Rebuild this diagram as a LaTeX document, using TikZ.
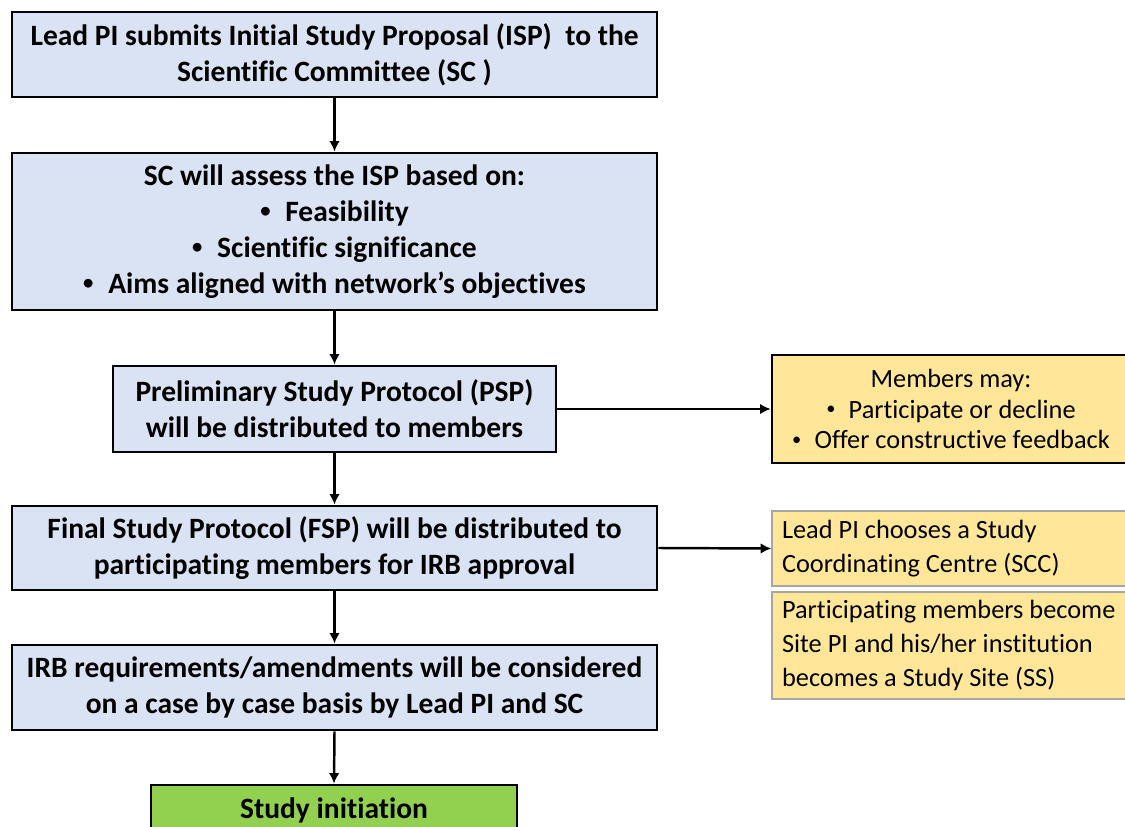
\documentclass[tikz,border=0pt]{standalone}
\usepackage{fontspec}
\usepackage{graphicx}
\setmainfont{Carlito}[Ligatures=NoCommon]
\usetikzlibrary{arrows.meta}
\definecolor{bluefill}{HTML}{DAE3F3}
\definecolor{yellowfill}{HTML}{FFE699}
\definecolor{greenfill}{HTML}{92D050}
\definecolor{graybord}{HTML}{A6A6A6}
\newcommand{\smbul}{\raisebox{0.12em}{\scalebox{0.7}{\textbullet}}\hspace{0.5em}}
\tikzset{
  mainbox/.style={draw=black, line width=1.6pt, fill=bluefill, align=center, inner sep=2pt,
    font=\fontsize{16.8}{20.4}\selectfont\bfseries},
  sidebox/.style={draw=black, line width=1.6pt, fill=yellowfill, align=center, inner sep=2pt,
    font=\fontsize{15}{17.6}\selectfont},
  notebox/.style={draw=graybord, line width=0.9pt, fill=yellowfill, align=flush left,
    inner xsep=0.2cm, inner ysep=2pt,
    text width=6.76cm, font=\fontsize{15}{19.3}\selectfont},
  greenbox/.style={draw=black, line width=1.6pt, fill=greenfill, align=center,
    font=\fontsize{16.8}{20.4}\selectfont\bfseries},
  flow/.style={line width=1.4pt, -{Latex[length=6pt,width=6pt]}}
}
\begin{document}
\begin{tikzpicture}[x=0.02cm,y=-0.02cm]
\useasboundingbox (0,0) rectangle (1125,827);
\clip (0,0) rectangle (1125,827);
\node[mainbox, minimum width=12.9cm, minimum height=1.7cm] (b1) at (334.5,54.5)
  {Lead PI submits Initial Study Proposal (ISP)~ to the\\Scientific Committee (SC )};
\node[mainbox, minimum width=12.9cm, minimum height=3.14cm] (b2) at (334.5,231.5)
  {SC will assess the ISP based on:\\\smbul Feasibility\\\smbul Scientific significance\\\smbul Aims aligned with network’s objectives};
\node[mainbox, minimum width=8.86cm, minimum height=1.72cm] (b3) at (334.5,409)
  {Preliminary Study Protocol (PSP)\\will be distributed to members};
\node[mainbox, minimum width=12.9cm, minimum height=1.68cm] (b4) at (334.5,548)
  {Final Study Protocol (FSP) will be distributed to\\participating members for IRB approval};
\node[mainbox, minimum width=12.9cm, minimum height=1.7cm] (b5) at (334.5,687.5)
  {IRB requirements/amendments will be considered\\on a case by case basis by Lead PI and SC};
\node[greenbox, minimum width=7.32cm, minimum height=1.0cm] (b6) at (334,810)
  {Study initiation};
\node[sidebox, minimum width=7.16cm, minimum height=2.16cm] (yA) at (951,409)
  {Members may:\\\smbul Participate or decline\\\smbul Offer constructive feedback};
\node[notebox, minimum height=1.5cm] (yB) at (951,548.5)
  {Lead PI chooses a Study\\Coordinating Centre (SCC)};
\node[notebox, minimum height=2.14cm] (yC) at (951,645.5)
  {Participating members become\\Site PI and his/her institution\\becomes a Study Site (SS)};
\draw[flow] (b1.south) -- (b2.north);
\draw[flow] (b2.south) -- (b3.north);
\draw[flow] (b3.south) -- (b4.north);
\draw[flow] (b4.south) -- (b5.north);
\draw[flow] (b5.south) -- (b6.north);
\draw[flow] (b3.east) -- (yA.west);
\draw[flow] (b4.east) -- (yB.west);
\end{tikzpicture}
\end{document}
